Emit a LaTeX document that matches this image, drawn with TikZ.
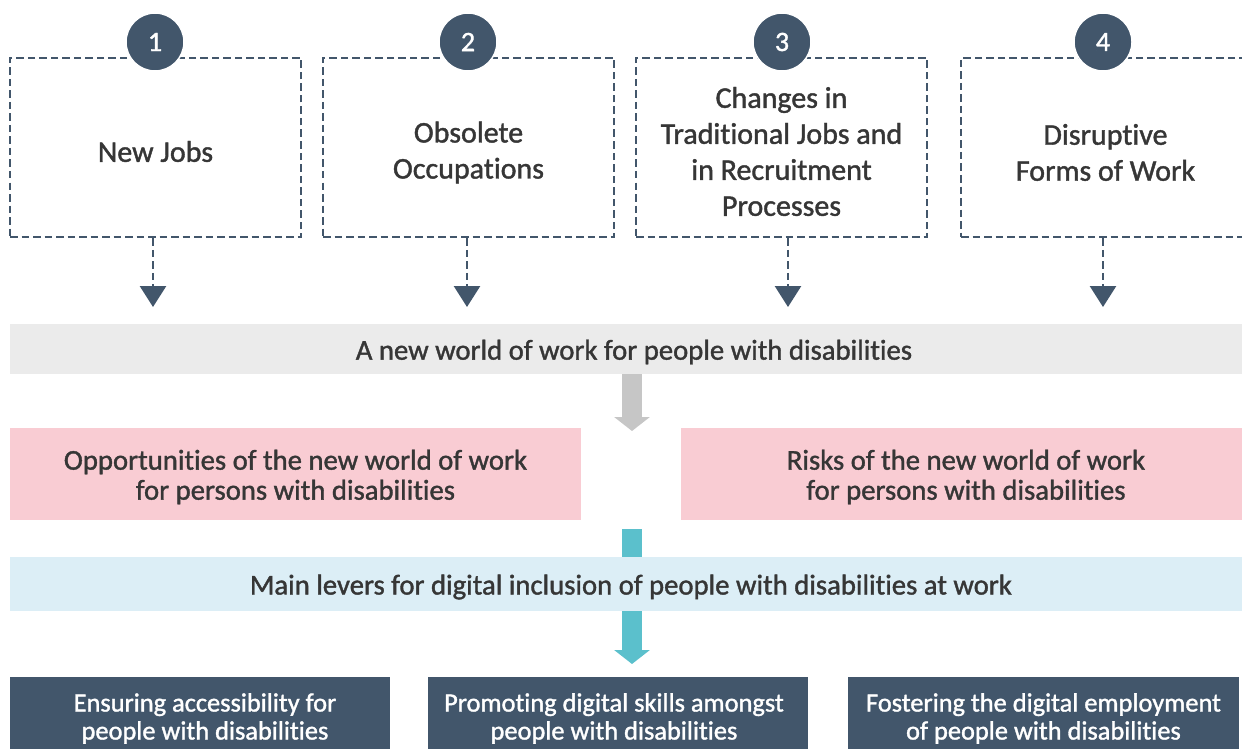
\documentclass[tikz,border=0pt]{standalone}
\usepackage{fontspec}
\setmainfont{Carlito}[Ligatures=NoCommon]
\newfontfamily\medfont{Carlito}[FakeBold=1.3,Ligatures=NoCommon]
\usetikzlibrary{arrows.meta}
\definecolor{dark}{HTML}{42566B}
\definecolor{txt}{HTML}{363636}
\definecolor{band}{HTML}{EBEBEB}
\definecolor{garrow}{HTML}{C6C6C6}
\definecolor{pink}{HTML}{F9CCD3}
\definecolor{lblue}{HTML}{DCEEF6}
\definecolor{teal}{HTML}{5BC0CC}
\tikzset{
  dbox/.style={draw=dark, line width=2.7pt, dash pattern=on 7.5pt off 4pt, fill=white,
    minimum width=291pt, minimum height=179pt, inner sep=0pt},
  dtext/.style={align=center, text=txt, inner sep=0pt,
    font=\medfont\fontsize{30}{36}\selectfont},
  numc/.style={circle, fill=dark, draw=white, line width=1.5pt, minimum size=58pt,
    inner sep=0pt, text=white, font=\medfont\fontsize{28}{30}\selectfont},
  darr/.style={draw=dark, line width=2.7pt, dash pattern=on 7.5pt off 4pt,
    -{Triangle[width=26pt,length=21pt]}},
  fband/.style={inner sep=0pt},
  mtext/.style={align=center, text=txt, inner sep=0pt,
    font=\medfont\fontsize{28.7}{30}\selectfont},
  pbox/.style={fill=pink, minimum width=571pt, minimum height=92pt, inner sep=0pt},
  lbox/.style={fill=dark, minimum width=381pt, minimum height=83pt, inner sep=0pt},
  ltext/.style={align=center, text=white, inner sep=0pt,
    font=\medfont\fontsize{26.4}{28}\selectfont},
  blockarr/.style={line width=20pt, -{Triangle[width=35pt,length=14pt]}},
}
\begin{document}
\begin{tikzpicture}[x=1pt,y=-1pt]
\useasboundingbox (0,0) rectangle (1242,749);
\clip (0,0) rectangle (1242,749);
\fill[white] (0,0) rectangle (1242,749);
% top dashed boxes
\node[dbox] (b1) at (155.5,147.5) {};
\node[dbox] (b2) at (468.5,147.5) {};
\node[dbox] (b3) at (781.5,147.5) {};
\node[dbox, minimum width=289pt] (b4) at (1105.5,147.5) {};
\node[dtext] (b1t) at ([yshift=-4pt]b1.center) {New Jobs};
\node[dtext] (b2t) at ([yshift=-5pt]b2.center) {Obsolete\\Occupations};
\node[dtext] (b3t) at ([yshift=-4pt]b3.center) {Changes in\\Traditional Jobs and\\in Recruitment\\Processes};
\node[dtext] (b4t) at ([yshift=-5pt]b4.center) {Disruptive\\Forms of Work};
\node[numc] (n1) at (155,42) {1};
\node[numc] (n2) at (468,42) {2};
\node[numc] (n3) at (782,42) {3};
\node[numc] (n4) at (1103,42) {4};
% band
\node[fband, fill=band, minimum width=1248pt, minimum height=50pt] (world) at (634,349) {};
\node[mtext] (worldt) at ([yshift=-3pt]world.center) {A new world of work for people with disabilities};
\coordinate (t1) at (153,307);
\coordinate (t2) at (467,307);
\coordinate (t3) at (788,307);
\coordinate (t4) at (1103,307);
\draw[darr] (b1.south -| t1) -- (t1);
\draw[darr] (b2.south -| t2) -- (t2);
\draw[darr] (b3.south -| t3) -- (t3);
\draw[darr] (b4.south -| t4) -- (t4);
% gray arrow
\coordinate (g) at (632,431);
\draw[blockarr, draw=garrow, fill=garrow] (world.south -| g) -- (g);
% pink boxes
\node[pbox] (opp) at (295.5,474) {};
\node[pbox] (risk) at (966,474) {};
\node[mtext] (oppt) at ([yshift=-3pt]opp.center) {Opportunities of the new world of work\\for persons with disabilities};
\node[mtext] (riskt) at ([yshift=-3pt]risk.center) {Risks of the new world of work\\for persons with disabilities};
% teal arrow
\coordinate (ts) at (632,529);
\coordinate (te) at (632,664);
\draw[blockarr, draw=teal, fill=teal] (ts) -- (te);
% blue band
\node[fband, fill=lblue, minimum width=1242pt, minimum height=54pt] (lev) at (631,584) {};
\node[mtext] (levt) at ([yshift=-3pt]lev.center) {Main levers for digital inclusion of people with disabilities at work};
% bottom boxes
\node[lbox, minimum width=380pt] (l1) at (200,718.5) {};
\node[lbox, minimum width=380pt] (l2) at (618,718.5) {};
\node[lbox, minimum width=391pt] (l3) at (1043.5,718.5) {};
\node[ltext] (l1t) at ([xshift=5pt]l1.center) {Ensuring accessibility for\\people with disabilities};
\node[ltext] (l2t) at ([xshift=-4pt]l2.center) {Promoting digital skills amongst\\people with disabilities};
\node[ltext] (l3t) at (l3.center) {Fostering the digital employment\\of people with disabilities};
\end{tikzpicture}
\end{document}
